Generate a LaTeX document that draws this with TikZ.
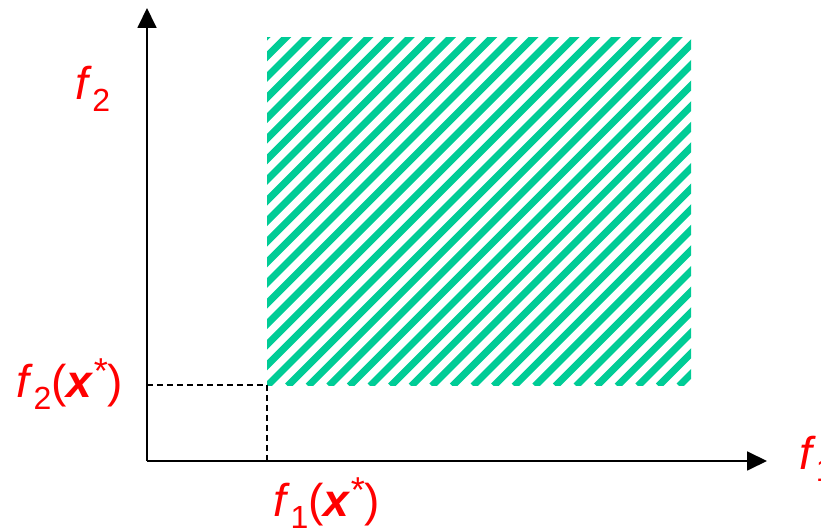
\documentclass[tikz,border=0pt]{standalone}
\usepackage{fontspec}
\setmainfont{Liberation Sans}
\usetikzlibrary{arrows.meta}
\definecolor{hatch}{RGB}{0,204,150}
\definecolor{lab}{RGB}{255,0,0}
\newcommand{\subsc}[1]{\raisebox{-0.25em}{\fontsize{32}{32}\selectfont #1}}
\newcommand{\supst}{\raisebox{0.3em}{\fontsize{36}{36}\selectfont *}}
\tikzset{
  axis/.style={line width=1.8pt,-{Triangle[length=20pt,width=19pt]}},
  guide/.style={line width=1.4pt,dash pattern=on 6pt off 4pt},
  lbl/.style={text=lab,font=\fontsize{46}{48}\selectfont,inner sep=0pt},
  stripe/.style={hatch,line width=7pt}
}
\begin{document}
\begin{tikzpicture}[x=1pt,y=1pt]
\useasboundingbox (0,0) rectangle (821,529);
\coordinate (O) at (147,68);
\coordinate (ytip) at (147,521);
\coordinate (xtip) at (767,68);
\coordinate (c) at (267,144);
\coordinate (yc) at (147,144);
\coordinate (xc) at (267,68);
% hatched region
\begin{scope}
  \clip (267,143) rectangle (691,491);
  \foreach \k in {-18,...,22} {
    \draw[stripe] (267+20.6*\k,143) -- ++(400,400);
  }
\end{scope}
% axes
\draw[axis] (O) -- (ytip);
\draw[axis] (O) -- (xtip);
% guide lines
\draw[guide] (yc) -- (c);
\draw[guide] (c) -- (xc);
% labels
\node[lbl] (lf2) at (93,440) {\textit{f}\subsc{2}};
\node[lbl,anchor=west] (lf1) at (799,70) {\textit{f}\subsc{1}};
\node[lbl] (lf2x) at (70,145) {\textit{f}\subsc{2}(\textbf{\textit{x}}\supst)};
\node[lbl] (lf1x) at (327,26) {\textit{f}\subsc{1}(\textbf{\textit{x}}\supst)};
\end{tikzpicture}
\end{document}
